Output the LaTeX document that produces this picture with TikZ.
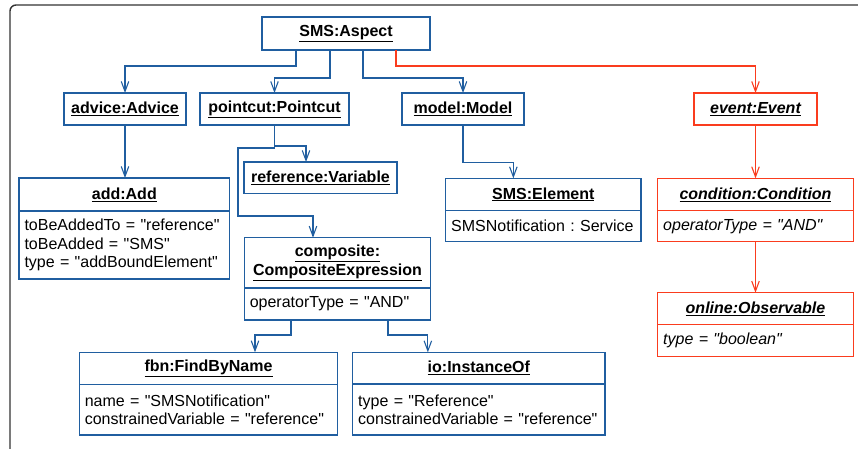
\documentclass[tikz,border=0pt]{standalone}
\usepackage{fontspec}
\setmainfont{Liberation Sans}[Ligatures=TeXOff]
\usetikzlibrary{arrows.meta}
\frenchspacing
\definecolor{umlblue}{RGB}{32,94,160}
\definecolor{umlred}{RGB}{250,60,30}
\newcommand{\objname}[1]{\underline{#1}}
\tikzset{
  objbox/.style={draw=umlblue, line width=1.3pt, inner sep=0pt, outer sep=0pt, align=center,
    font=\fontsize{16}{18.5}\selectfont\bfseries},
  attrbox/.style={draw=umlblue, line width=1.3pt, inner xsep=5.5pt, inner ysep=0pt, outer sep=0pt,
    align=left, anchor=north west, font=\fontsize{16}{18.5}\selectfont},
  evbox/.style={objbox, draw=umlred, font=\fontsize{16}{18.5}\selectfont\bfseries\itshape},
  evattr/.style={attrbox, draw=umlred, font=\fontsize{16}{18.5}\selectfont\itshape},
  link/.style={umlblue, line width=1.1pt, -{Straight Barb[length=10pt,width=7.5pt]}},
  evlink/.style={link, umlred},
}
\begin{document}
\begin{tikzpicture}[x=1pt,y=-1pt]
\useasboundingbox (0,0) rectangle (858,448);
% frame
\draw[black!80, line width=1.4pt, rounded corners=6pt] (10,450) -- (10,5) -- (860,5);
% first row
\node[objbox, minimum width=168pt, minimum height=33pt] (aspect) at (346,33.5) {\objname{SMS:Aspect}};
\node[objbox, minimum width=122pt, minimum height=32pt] (advice) at (125,109) {\objname{advice:Advice}};
\node[objbox, minimum width=149pt, minimum height=32pt] (pointcut) at (274.5,109) {\objname{pointcut:Pointcut}};
\node[objbox, minimum width=122pt, minimum height=32pt] (model) at (463,109) {\objname{model:Model}};
\node[evbox, minimum width=123pt, minimum height=32pt] (event) at (755.5,109) {\objname{event:Event}};
% second row
\node[objbox, minimum width=210.7pt, minimum height=33pt] (add) at (124.35,194.5) {\objname{add:Add}};
\node[attrbox, text width=199.7pt, minimum height=68pt] (addattr) at (add.south west)
  {toBeAddedTo = "reference"\\toBeAdded = "SMS"\\type = "addBoundElement"};
\node[objbox, minimum width=153pt, minimum height=31.5pt] (ref) at (320.5,177.75) {\objname{reference:Variable}};
\node[objbox, minimum width=195.3pt, minimum height=32pt] (elem) at (543.35,194.3) {\objname{SMS:Element}};
\node[attrbox, text width=184.3pt, minimum height=31.4pt] (elemattr) at (elem.south west)
  {SMSNotification : Service};
\node[evbox, minimum width=195.6pt, minimum height=32.4pt] (cond) at (755.5,194.5) {\objname{condition:Condition}};
\node[evattr, text width=184.6pt, minimum height=31pt] (condattr) at (cond.south west)
  {operatorType = "AND"};
% third row
\node[objbox, minimum width=186.4pt, minimum height=50.3pt] (comp) at (337.5,262.85)
  {\objname{composite:}\\\objname{CompositeExpression}};
\node[attrbox, text width=175.4pt, minimum height=32pt] (compattr) at (comp.south west)
  {operatorType = "AND"};
\node[evbox, minimum width=195.6pt, minimum height=31.6pt] (online) at (755.5,308.5) {\objname{online:Observable}};
\node[evattr, text width=184.6pt, minimum height=32.4pt] (onlineattr) at (online.south west)
  {type = "boolean"};
% fourth row
\node[objbox, minimum width=258.4pt, minimum height=32pt] (fbn) at (208.5,368.3) {\objname{fbn:FindByName}};
\node[attrbox, text width=247.4pt, minimum height=50.7pt] (fbnattr) at (fbn.south west)
  {name = "SMSNotification"\\constrainedVariable = "reference"};
\node[objbox, minimum width=252.3pt, minimum height=31.7pt] (io) at (478.85,368.2) {\objname{io:InstanceOf}};
\node[attrbox, text width=241.3pt, minimum height=51pt] (ioattr) at (io.south west)
  {type = "Reference"\\constrainedVariable = "reference"};
% links
\draw[link] ([xshift=-50pt]aspect.south) -- ++(0,16) -| (advice);
\draw[link] ([xshift=-16pt]aspect.south) -- ++(0,28) -| (pointcut);
\draw[link] ([xshift=17pt]aspect.south) -- ++(0,28) -| (model);
\draw[evlink] ([xshift=50pt]aspect.south) -- ++(0,16) -| (event);
\draw[link] (advice.south) -- (advice.south |- add.north);
\draw[link] (pointcut.south) -- ++(0,21) -| ([xshift=-14.5pt]ref.north);
\draw[link] (pointcut.south) -- ++(0,23) -| ++(-36.5,68) -| ([xshift=-24.5pt]comp.north);
\draw[link] (model.south) -- ++(0,37.7) -| ([xshift=-30pt]elem.north);
\draw[link] ([xshift=-46.5pt]compattr.south) -- ++(0,15) -| ([xshift=46.5pt]fbn.north);
\draw[link] ([xshift=50.5pt]compattr.south) -- ++(0,15) -| ([xshift=-51pt]io.north);
\draw[evlink] (event) -- (cond);
\draw[evlink] (condattr) -- (online);
\end{tikzpicture}
\end{document}
